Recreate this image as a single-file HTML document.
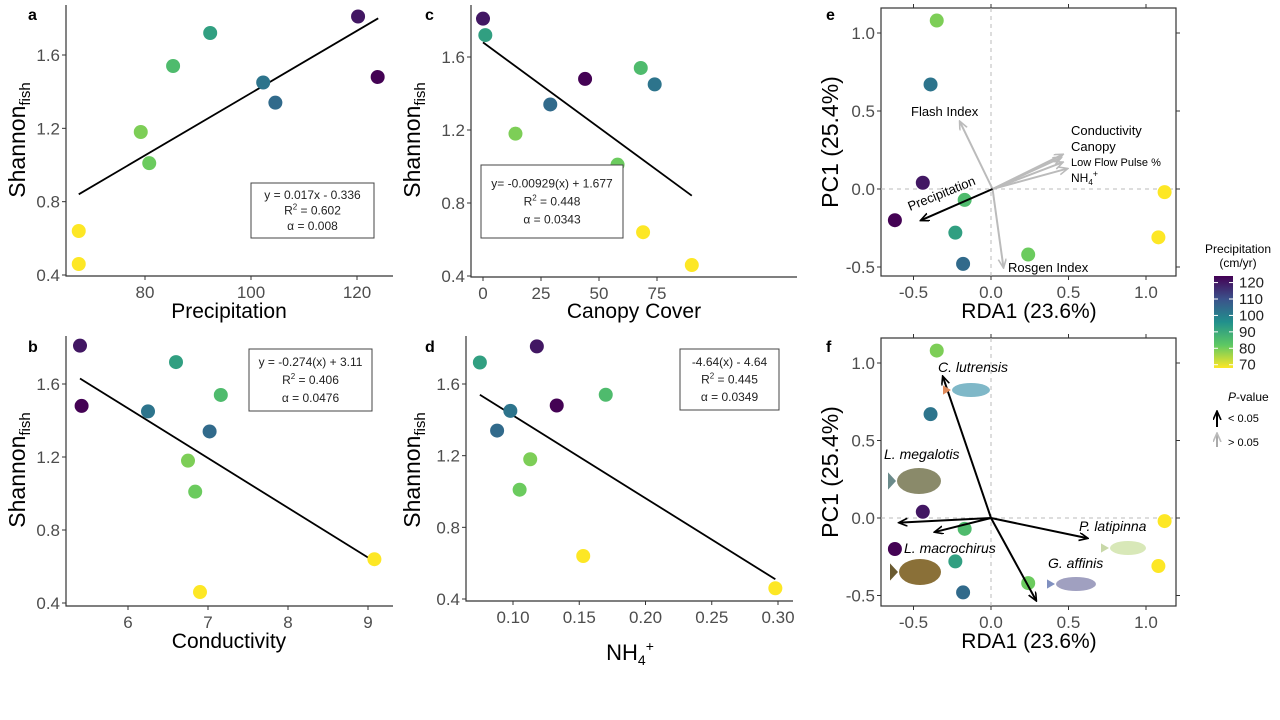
<!DOCTYPE html>
<html><head><meta charset="utf-8">
<style>
body{margin:0;background:#fff;}
svg{display:block;font-family:"Liberation Sans",sans-serif;}
</style></head>
<body>
<svg id="fig" width="1280" height="720" viewBox="0 0 1280 720"></svg>
<script>
const shannon=[1.81,1.48,1.72,1.54,1.45,1.34,1.18,1.01,0.64,0.46];
const precip=[120.2,123.9,92.3,85.3,102.3,104.6,79.2,80.8,67.5,67.5];
const conduct=[5.4,5.42,6.6,7.16,6.25,7.02,6.75,6.84,9.08,6.9];
const canopy=[0,44,1,68,74,29,14,58,69,90];
const nh4=[0.118,0.133,0.075,0.17,0.098,0.088,0.113,0.105,0.153,0.298];
const rda1=[-0.44,-0.62,-0.23,-0.17,-0.39,-0.18,-0.35,0.24,1.12,1.08];
const pc1=[0.04,-0.20,-0.28,-0.07,0.67,-0.48,1.08,-0.42,-0.02,-0.31];
const fitA=[[67.5,124],[0.84,1.80]];
const fitB=[[5.4,9.07],[1.63,0.63]];
const fitC=[[0,90],[1.68,0.84]];
const fitD=[[0.075,0.298],[1.54,0.51]];
const envNames=["Flash Index","Conductivity","Canopy","Low Flow Pulse %","NH4","Rosgen Index","Precipitation"];
const envX=[-0.2,0.46,0.45,0.46,0.49,0.08,-0.45];
const envY=[0.43,0.22,0.20,0.17,0.13,-0.50,-0.20];
const envSig=[0,0,0,0,0,0,1];
const fishNames=["C. lutrensis","L. megalotis","L. macrochirus","P. latipinna","G. affinis"];
const fishX=[-0.31,-0.59,-0.36,0.62,0.29];
const fishY=[0.91,-0.03,-0.09,-0.13,-0.53];

const NS="http://www.w3.org/2000/svg";
const svg=document.getElementById('fig');
function el(tag,attrs,parent,text){const e=document.createElementNS(NS,tag);for(const k in attrs)e.setAttribute(k,attrs[k]);if(text!==undefined)e.textContent=text;(parent||svg).appendChild(e);return e;}
const vir=[[68,1,84],[59,82,139],[33,144,140],[93,200,99],[253,231,37]];
function color(p){let t=1-(p-68)/(124-68);t=Math.max(0,Math.min(1,t));const s=t*4,i=Math.min(3,Math.floor(s)),f=s-i;const a=vir[i],b=vir[i+1];return `rgb(${a.map((v,k)=>Math.round(v+(b[k]-v)*f)).join(',')})`;}
function scale(d0,d1,r0,r1){return v=>r0+(v-d0)*(r1-r0)/(d1-d0);}
const defs=el('defs',{});
function marker(id,col){const m=el('marker',{id:id,markerWidth:10,markerHeight:10,refX:8,refY:4,orient:'auto',markerUnits:'userSpaceOnUse'},defs);el('path',{d:'M0,0 L9,4 L0,8',fill:'none',stroke:col,'stroke-width':1.6},m);}
marker('ab','#000');marker('ag','#bbb');

function panel(o){
  const g=el('g',{});
  const sx=scale(o.xd[0],o.xd[1],o.x0,o.x1), sy=scale(o.yd[0],o.yd[1],o.y0,o.y1);
  if(o.box){el('rect',{x:o.L,y:o.T,width:o.R-o.L,height:o.B-o.T,fill:'none',stroke:'#333','stroke-width':1.2},g);}
  else{el('path',{d:`M${o.L},${o.T} V${o.B} H${o.R}`,fill:'none',stroke:'#333','stroke-width':1.2},g);}
  o.xt.forEach((t,i)=>{const x=sx(t);el('line',{x1:x,x2:x,y1:o.B,y2:o.B+4,stroke:'#333'},g);if(o.box)el('line',{x1:x,x2:x,y1:o.T,y2:o.T-4,stroke:'#333'},g);
    const tx=el('text',{x:x,y:o.B+22,'text-anchor':'middle','font-size':17,fill:'#4d4d4d'},g,o.xl[i]);});
  o.yt.forEach((t,i)=>{const y=sy(t);el('line',{x1:o.L-4,x2:o.L,y1:y,y2:y,stroke:'#333'},g);if(o.box)el('line',{x1:o.R,x2:o.R+4,y1:y,y2:y,stroke:'#333'},g);
    const tx=el('text',{x:o.L-6,y:y+6,'text-anchor':'end','font-size':17,fill:'#4d4d4d'},g,o.yl[i]);});
  o.sx=sx;o.sy=sy;o.g=g;return o;
}
function pts(p,xs,ys){xs.forEach((v,i)=>{const c=el('circle',{cx:p.sx(v),cy:p.sy(ys[i]),r:7,fill:color(precip[i])},p.g);});}
function fit(p,f){const l=el('line',{x1:p.sx(f[0][0]),y1:p.sy(f[1][0]),x2:p.sx(f[0][1]),y2:p.sy(f[1][1]),stroke:'#000','stroke-width':1.8},p.g);}
function statbox(x,y,w,h,lines,name){const g=el('g',{});
  el('rect',{x:x,y:y,width:w,height:h,fill:'#fff',stroke:'#444','stroke-width':1},g);
  const sp=Math.min(18,(h-8)/3), st=y+h/2-sp+4;
  lines.forEach((t,i)=>{const tx=el('text',{x:x+w/2,y:st+i*sp,'text-anchor':'middle','font-size':12,fill:'#222'},g);tx.innerHTML=t;});}
function label(x,y,t,size,extra){const tx=el('text',Object.assign({x:x,y:y,'font-size':size,fill:'#000'},extra||{}));tx.innerHTML=t;return tx;}
function ytitle(x,y,t){const tx=el('text',{x:0,y:0,transform:`translate(${x},${y}) rotate(-90)`,'text-anchor':'middle','font-size':23,fill:'#000'});tx.innerHTML=t;}
const shT=[0.4,0.8,1.2,1.6],shL=['0.4','0.8','1.2','1.6'];

const pa=panel({name:'panel-a',L:66,R:393,T:5,B:276,xd:[80,120],x0:145,x1:357,yd:[0.4,1.6],y0:275,y1:55,xt:[80,100,120],xl:['80','100','120'],yt:shT,yl:shL});
fit(pa,fitA);pts(pa,precip,shannon);
statbox(251,183,123,55,['y = 0.017x - 0.336','R<tspan font-size="8" dy="-5">2</tspan><tspan dy="5"> = 0.602</tspan>','α = 0.008'],'stats-box-a');
const pb=panel({name:'panel-b',L:66,R:393,T:336,B:606,xd:[6,9],x0:128,x1:368,yd:[0.4,1.6],y0:603,y1:384,xt:[6,7,8,9],xl:['6','7','8','9'],yt:shT,yl:shL});
fit(pb,fitB);pts(pb,conduct,shannon);
statbox(249,349,123,62,['y = -0.274(x) + 3.11','R<tspan font-size="8" dy="-5">2</tspan><tspan dy="5"> = 0.406</tspan>','α = 0.0476'],'stats-box-b');
const pc=panel({name:'panel-c',L:471,R:797,T:5,B:277,xd:[0,75],x0:483,x1:657,yd:[0.4,1.6],y0:276,y1:57,xt:[0,25,50,75],xl:['0','25','50','75'],yt:shT,yl:shL});
fit(pc,fitC);pts(pc,canopy,shannon);
statbox(481,165,142,73,['y= -0.00929(x) + 1.677','R<tspan font-size="8" dy="-5">2</tspan><tspan dy="5"> = 0.448</tspan>','α = 0.0343'],'stats-box-c');
const pd=panel({name:'panel-d',L:466,R:793,T:336,B:601,xd:[0.1,0.3],x0:513,x1:778,yd:[0.4,1.6],y0:599,y1:384,xt:[0.1,0.15,0.2,0.25,0.3],xl:['0.10','0.15','0.20','0.25','0.30'],yt:shT,yl:shL});
fit(pd,fitD);pts(pd,nh4,shannon);
statbox(680,349,99,61,['-4.64(x) - 4.64','R<tspan font-size="8" dy="-5">2</tspan><tspan dy="5"> = 0.445</tspan>','α = 0.0349'],'stats-box-d');

const pe=panel({name:'panel-e',box:true,L:881,R:1176,T:8,B:276,xd:[0,1],x0:991,x1:1146,yd:[0,1],y0:189,y1:33,xt:[-0.5,0,0.5,1],xl:['-0.5','0.0','0.5','1.0'],yt:[-0.5,0,0.5,1],yl:['-0.5','0.0','0.5','1.0']});
function zerolines(p){el('line',{x1:p.sx(0),x2:p.sx(0),y1:p.T,y2:p.B,stroke:'#bbb','stroke-dasharray':'4,4'},p.g);el('line',{x1:p.L,x2:p.R,y1:p.sy(0),y2:p.sy(0),stroke:'#bbb','stroke-dasharray':'4,4'},p.g);}
zerolines(pe);pts(pe,rda1,pc1);
envX.forEach((v,i)=>{const a=el('line',{x1:pe.sx(0.01),y1:pe.sy(0),x2:pe.sx(v),y2:pe.sy(envY[i]),stroke:envSig[i]?'#000':'#bbb','stroke-width':2,'marker-end':envSig[i]?'url(#ab)':'url(#ag)'},pe.g);});
label(911,116,'Flash Index',13);
label(1071,135,'Conductivity',13);label(1071,151,'Canopy',13);label(1071,166,'Low Flow Pulse %',11);
label(1071,182,'NH<tspan font-size="8" dy="3">4</tspan><tspan font-size="9" dy="-8">+</tspan>',12);
label(1008,272,'Rosgen Index',13);
label(0,0,'Precipitation',13,{transform:'translate(910,211) rotate(-22)'});

const pf=panel({name:'panel-f',box:true,L:881,R:1176,T:338,B:606,xd:[0,1],x0:991,x1:1146,yd:[0,1],y0:518,y1:363,xt:[-0.5,0,0.5,1],xl:['-0.5','0.0','0.5','1.0'],yt:[-0.5,0,0.5,1],yl:['-0.5','0.0','0.5','1.0']});
zerolines(pf);pts(pf,rda1,pc1);
fishX.forEach((v,i)=>{const a=el('line',{x1:pf.sx(0),y1:pf.sy(0),x2:pf.sx(v),y2:pf.sy(fishY[i]),stroke:'#000','stroke-width':2,'marker-end':'url(#ab)'},pf.g);});
function fish(cx,cy,w,h,c1,c2,name){const g=el('g',{});
  el('path',{d:`M${cx-w/2},${cy-h/3} L${cx-w/2+8},${cy} L${cx-w/2},${cy+h/3} Z`,fill:c2},g);
  el('ellipse',{cx:cx+3,cy:cy,rx:w/2-6,ry:h/2,fill:c1},g);}
fish(968,390,50,14,'#7fb8c8','#e08a5a','fish-c-lutrensis');
fish(916,481,56,26,'#8a8a6a','#6a8a8a','fish-l-megalotis');
fish(917,572,54,26,'#8a7038','#6a5a30','fish-l-macrochirus');
fish(1125,548,48,14,'#d8e8b8','#c8d8a8','fish-p-latipinna');
fish(1073,584,52,14,'#a0a0c0','#8090c0','fish-g-affinis');
const it={'font-style':'italic'};
label(938,372,'C. lutrensis',14,it);label(884,459,'L. megalotis',14,it);label(904,553,'L. macrochirus',14,it);
label(1079,531,'P. latipinna',14,it);label(1048,568,'G. affinis',14,it);

[['a',28,20],['b',28,352],['c',425,20],['d',425,352],['e',826,20],['f',826,352]].forEach(l=>{const t=label(l[1],l[2],l[0],16,{'font-weight':'bold'});});
const sh='Shannon<tspan font-size="15" dy="5">fish</tspan>';
ytitle(25,140,sh);ytitle(25,470,sh);ytitle(420,140,sh);ytitle(420,470,sh);
ytitle(838,142,'PC1 (25.4%)');ytitle(838,472,'PC1 (25.4%)');
const xt=[[229,318,'Precipitation'],[229,648,'Conductivity'],[634,318,'Canopy Cover'],[1029,318,'RDA1 (23.6%)'],[1029,648,'RDA1 (23.6%)']];
xt.forEach(x=>{const t=label(x[0],x[1],x[2],21,{'text-anchor':'middle'});});
label(630,660,'NH<tspan font-size="14" dy="5">4</tspan><tspan font-size="14" dy="-14">+</tspan>',22,{'text-anchor':'middle'});

const lg=el('g',{});
label(1238,253,'Precipitation',12,{'text-anchor':'middle'});label(1238,267,'(cm/yr)',12,{'text-anchor':'middle'});
const gr=el('linearGradient',{id:'vg',x1:0,y1:0,x2:0,y2:1},defs);
vir.forEach((c,i)=>el('stop',{offset:(i/4),'stop-color':`rgb(${c})`},gr));
el('rect',{x:1214,y:276,width:19,height:92,fill:'url(#vg)'},lg);
const legV=[120,110,100,90,80,70];
legV.forEach(v=>{const y=276+(124-v)/(124-68)*92;el('line',{x1:1214,x2:1218,y1:y,y2:y,stroke:'#fff'},lg);el('line',{x1:1229,x2:1233,y1:y,y2:y,stroke:'#fff'},lg);el('text',{x:1239,y:y+5,'font-size':15,fill:'#222'},lg,String(v));});
label(1228,401,'<tspan font-style="italic">P</tspan>-value',12);
el('line',{x1:1217,y1:427,x2:1217,y2:412,stroke:'#000','stroke-width':2,'marker-end':'url(#ab)'});
el('line',{x1:1217,y1:447,x2:1217,y2:434,stroke:'#aaa','stroke-width':2,'marker-end':'url(#ag)'});
label(1228,422,'&lt; 0.05',11);label(1228,446,'&gt; 0.05',11);
</script>
</body></html>
